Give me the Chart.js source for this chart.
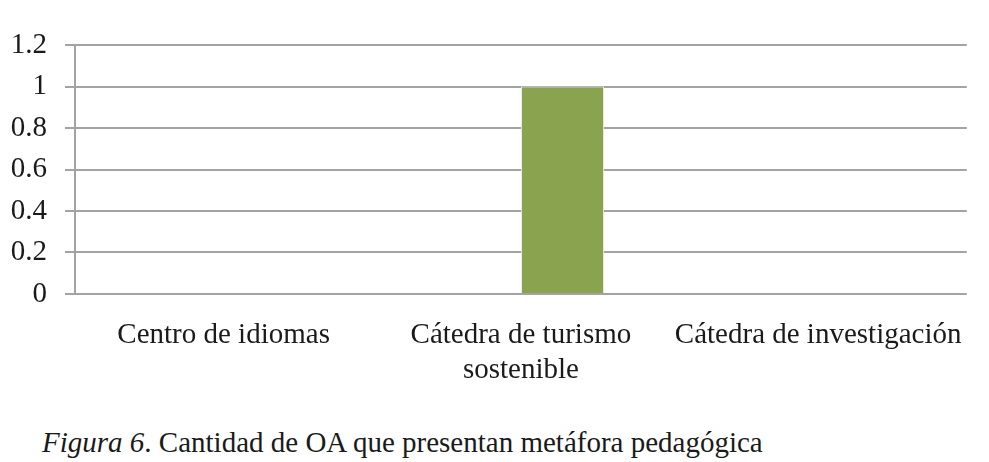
<!DOCTYPE html>
<html>
<head>
<meta charset="utf-8">
<script src="https://cdn.jsdelivr.net/npm/chart.js@4/dist/chart.umd.min.js"></script>
<style>
  html, body { margin: 0; padding: 0; background: #fff; }
  #wrap { position: relative; width: 989px; height: 462px; }
  #c { position: absolute; left: 0; top: 0; }
  #caption { position: absolute; left: 42px; top: 425px; font-family: "Liberation Serif", "Times New Roman", serif; font-size: 29px; line-height: 34px; color: #1a1a1a; white-space: nowrap; }
</style>
</head>
<body>
<div id="wrap">
  <canvas id="c" width="989" height="410"></canvas>
  <div id="caption"><i>Figura 6</i>. Cantidad de OA que presentan metáfora pedagógica</div>
</div>
<script>
const categories = [["Centro de idiomas"], ["Cátedra de turismo", "sostenible"], ["Cátedra de investigación"]];
const seriesA = [0, 0, 0];
const seriesB = [0, 1, 0];
const yTicks = [0, 0.2, 0.4, 0.6, 0.8, 1, 1.2];

const font = { family: "'Liberation Serif', 'Times New Roman', serif", size: 29, lineHeight: 1.2 };

new Chart(document.getElementById('c'), {
  type: 'bar',
  data: {
    labels: categories,
    datasets: [
      { data: seriesA, backgroundColor: 'rgba(0,0,0,0)', borderWidth: 0 },
      { data: seriesB, backgroundColor: '#8AA34E', borderColor: '#f4f4f4', borderWidth: 1 }
    ]
  },
  options: {
    responsive: false,
    animation: false,
    events: [],
    layout: { padding: { left: 0, right: 21, top: 45, bottom: 0 } },
    plugins: { legend: { display: false }, tooltip: { enabled: false } },
    datasets: { bar: { categoryPercentage: 0.56, barPercentage: 1 } },
    scales: {
      x: {
        grid: { display: false, drawTicks: false },
        border: { display: false },
        ticks: { color: '#1a1a1a', font: font, padding: 24, maxRotation: 0, autoSkip: false },
        afterFit: (s) => { s.height = 116; }
      },
      y: {
        min: 0, max: 1.2,
        afterBuildTicks: (s) => { s.ticks = yTicks.map(v => ({ value: v })); },
        grid: { color: '#A3A3A3', lineWidth: 2, tickLength: 10, drawTicks: true },
        border: { display: true, color: '#A3A3A3', width: 2 },
        ticks: { color: '#1a1a1a', font: font, padding: 18, callback: (v) => String(Math.round(v * 10) / 10) },
        afterFit: (s) => { s.width = 75; }
      }
    }
  }
});
</script>
</body>
</html>
